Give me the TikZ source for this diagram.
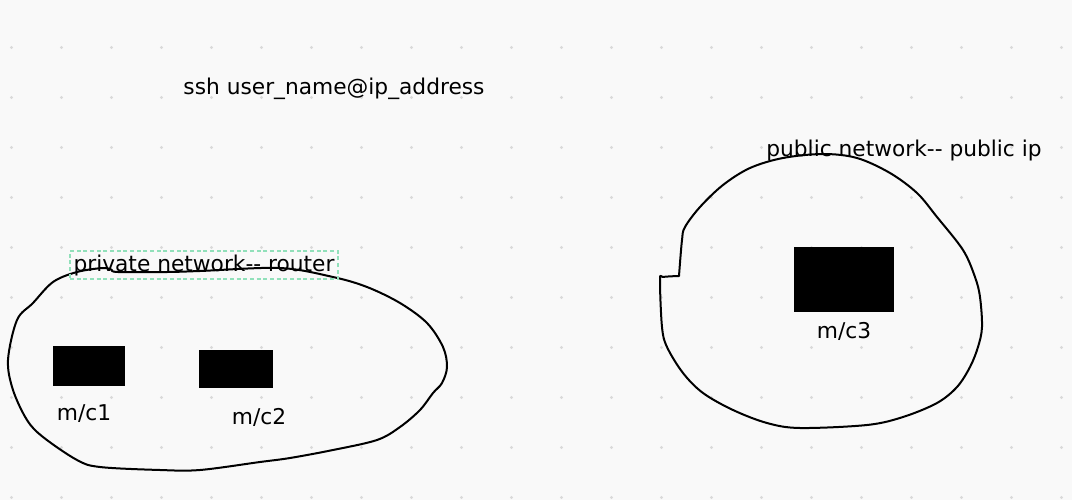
\documentclass[tikz,border=0pt]{standalone}
\usepackage{fontspec}
\setmainfont{DejaVu Sans}
\usetikzlibrary{positioning}
\definecolor{paper}{RGB}{249,249,249}
\definecolor{griddot}{RGB}{218,218,218}
\definecolor{mintdash}{RGB}{145,224,186}

\begin{document}
\begin{tikzpicture}[x=0.75pt, y=-0.75pt,
  every node/.style={font=\fontsize{16.3}{18}\selectfont},
  machine/.style={fill=black, draw=none, inner sep=0pt},
  blob/.style={line width=1.5pt, line join=round, line cap=round}]
  \fill[paper] (0,0) rectangle (1072,500);
  \useasboundingbox (0,0) rectangle (1072,500);
  \foreach \i in {0,...,21}
    \foreach \j in {0,...,9}
      \fill[griddot] (11.5+50*\i, 47.5+50*\j) circle (1.2pt);

  % private network
  \draw[blob] plot[smooth, tension=0.55] coordinates {
    (112,270) (118,272) (167,272) (200,271) (280,268) (333,277) (367,287)
    (400,303) (427,323) (443,347) (447,367) (442,383) (433,393) (420,410)
    (400,427) (377,440) (333,450) (290,458) (260,462) (200,470) (160,470)
    (100,467) (77,460) (43,437) (27,420) (13,390) (8,360) (17,320) (33,303)
    (53,282) (77,272) (103,268) (112,270)};
  \node[draw=mintdash, line width=0.9pt, dash pattern=on 3pt off 2pt,
        minimum width=268*0.75pt, minimum height=28*0.75pt, inner sep=1pt]
        (priv) at (204,265) {};
  \node (privlbl) at (204,266) {private network-{}- router};
  \node[machine, minimum width=72*0.75pt, minimum height=40*0.75pt] (mc1) at (89,366) {};
  \node[machine, minimum width=74*0.75pt, minimum height=38*0.75pt] (mc2) at (236,369) {};
  \node (mc1lbl) at (84,414) {m/c1};
  \node (mc2lbl) at (259,417) {m/c2};

  % public network
  \draw[blob] plot[smooth, tension=0.55] coordinates {
    (679,276) (682,240) (685,227) (700,207) (723,185) (750,168) (783,158)
    (823,154) (857,158) (890,173) (917,193) (937,217) (963,250) (975,277)
    (980,297) (982,327) (978,347) (970,367) (957,387) (937,403) (903,417)
    (867,425) (800,428) (767,423) (733,410) (703,393) (683,373) (667,347)
    (662,327) (660,280) (663,277) (679,276)};
  \node (pub) at (904,151) {public network-{}- public ip};
  \node[machine, minimum width=100*0.75pt, minimum height=65*0.75pt] (mc3) at (844,279.5) {};
  \node[below=4pt of mc3] (mc3lbl) {m/c3};

  \node (ssh) at (334,89) {ssh user\_name@ip\_address};
\end{tikzpicture}
\end{document}
